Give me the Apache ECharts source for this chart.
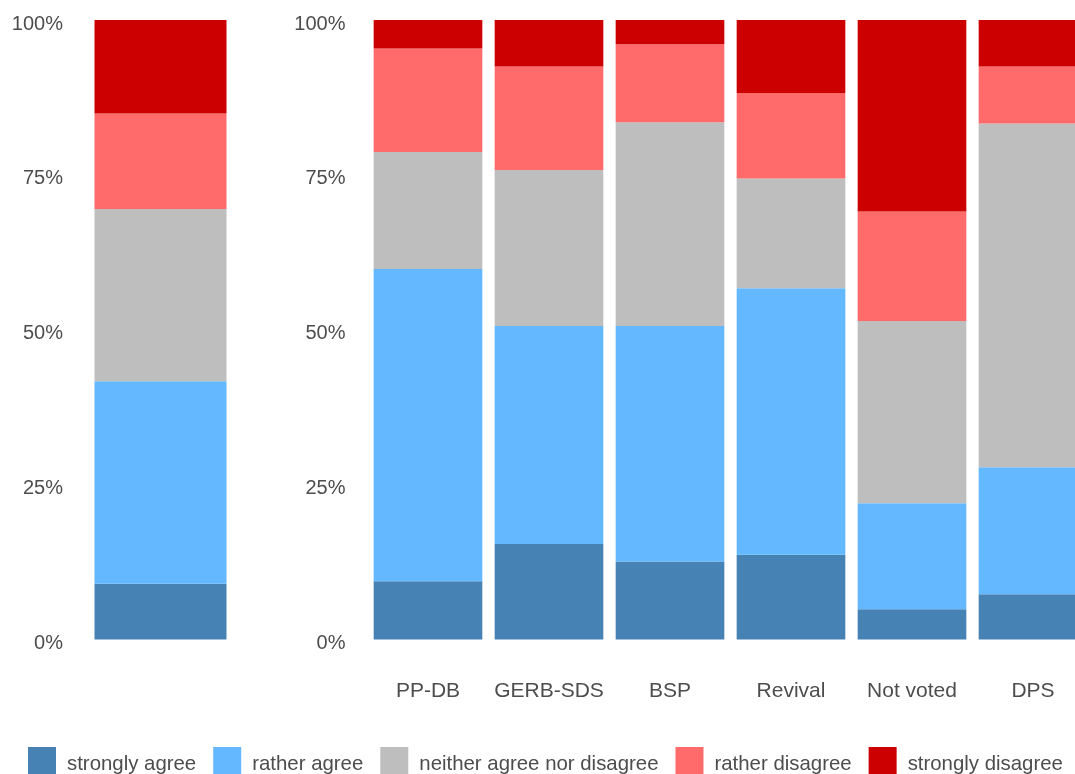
<!DOCTYPE html>
<html>
<head>
<meta charset="utf-8">
<script src="https://cdn.jsdelivr.net/npm/echarts@6/dist/echarts.min.js"></script>
<style>
  html, body { margin: 0; padding: 0; background: #fff; }
  #main { width: 1075px; height: 774px; }
</style>
</head>
<body>
<div id="main"></div>
<script>
// answer levels (stack order bottom -> top)
const levels = ['strongly agree', 'rather agree', 'neither agree nor disagree', 'rather disagree', 'strongly disagree'];
const colors = ['#4682B4', '#63B8FF', '#BEBEBE', '#FF6A6A', '#CD0000'];

// left panel: all respondents
const totalCategories = [''];
const totalShares = [9.0, 32.7, 27.8, 15.4, 15.1];

// right panel: by party
const parties = ['PP-DB', 'GERB-SDS', 'BSP', 'Revival', 'Not voted', 'DPS'];
const stronglyAgree = [9.4, 15.4, 12.6, 13.7, 4.9, 7.3];
const ratherAgree = [50.4, 35.2, 38.0, 43.0, 17.1, 20.5];
const neither = [18.9, 25.2, 32.9, 17.7, 29.4, 55.5];
const ratherDisagree = [16.7, 16.7, 12.6, 13.8, 17.7, 9.2];
const stronglyDisagree = [4.6, 7.5, 3.9, 11.8, 30.9, 7.5];
const partyShares = [stronglyAgree, ratherAgree, neither, ratherDisagree, stronglyDisagree];

const yTicks = [0, 25, 50, 75, 100];

const textColor = '#4d4d4d';
const font = 'Liberation Sans, Arial, sans-serif';

const chart = echarts.init(document.getElementById('main'));

const yAxisBase = {
  type: 'value',
  min: yTicks[0],
  max: yTicks[yTicks.length - 1],
  interval: 25,
  axisLine: { show: false },
  axisTick: { show: false },
  splitLine: { show: false },
  axisLabel: {
    formatter: '{t|{value}%}',
    margin: 22,
    rich: {
      t: {
        color: textColor,
        fontSize: 20,
        fontFamily: font,
        padding: [8, 0, 0, 0]
      }
    }
  }
};

const series = [];
levels.forEach((name, i) => {
  series.push({
    name: name,
    type: 'bar',
    stack: 'total',
    xAxisIndex: 0,
    yAxisIndex: 0,
    barWidth: 132,
    itemStyle: { color: colors[i] },
    data: [totalShares[i]]
  });
});
levels.forEach((name, i) => {
  series.push({
    name: name,
    type: 'bar',
    stack: 'party',
    xAxisIndex: 1,
    yAxisIndex: 1,
    barCategoryGap: '10.2%',
    itemStyle: { color: colors[i] },
    data: partyShares[i]
  });
});

const option = {
  animation: false,
  color: colors,
  grid: [
    { left: 85, top: 20, width: 151, height: 619.5, outerBoundsMode: 'none' },
    { left: 367.5, top: 20, width: 726, height: 619.5, outerBoundsMode: 'none' }
  ],
  xAxis: [
    {
      type: 'category',
      gridIndex: 0,
      data: totalCategories,
      axisLine: { show: false },
      axisTick: { show: false },
      axisLabel: { show: false }
    },
    {
      type: 'category',
      gridIndex: 1,
      data: parties,
      axisLine: { show: false },
      axisTick: { show: false },
      axisLabel: {
        interval: 0,
        color: textColor,
        fontSize: 21,
        fontFamily: font,
        margin: 41
      }
    }
  ],
  yAxis: [
    Object.assign({ gridIndex: 0 }, yAxisBase),
    Object.assign({ gridIndex: 1 }, yAxisBase)
  ],
  legend: {
    data: levels,
    left: 28,
    top: 747,
    width: 1075,
    padding: 0,
    itemWidth: 28,
    itemHeight: 28,
    itemGap: 17,
    icon: 'rect',
    formatter: '{t|{name}}',
    textStyle: {
      rich: {
        t: {
          color: textColor,
          fontSize: 20.4,
          fontFamily: font,
          padding: [6, 0, 0, 6]
        }
      }
    }
  },
  series: series
};

chart.setOption(option);
</script>
</body>
</html>
